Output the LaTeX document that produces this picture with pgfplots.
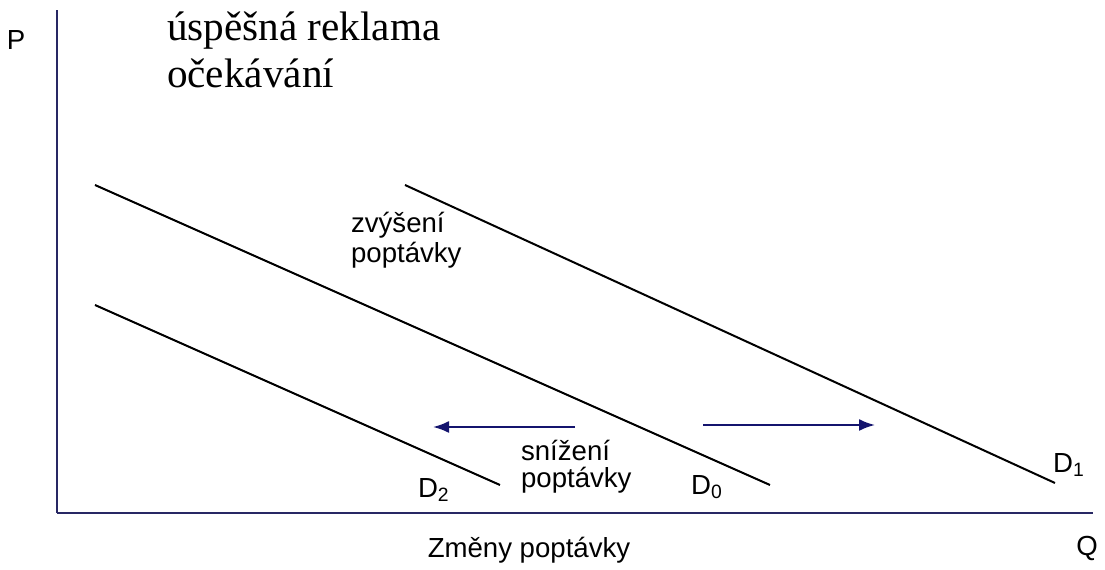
\documentclass[border=0pt]{standalone}
\usepackage{pgfplots}
\pgfplotsset{compat=1.18}
\usepackage{fontspec}
\setmainfont{Liberation Sans}
\newfontfamily\serif{Liberation Serif}
\usetikzlibrary{arrows.meta}
\definecolor{navy}{RGB}{20,20,110}
\definecolor{axnavy}{RGB}{40,40,100}
\begin{document}
\begin{tikzpicture}
\begin{axis}[
  x=0.5pt, y=0.5pt,
  xmin=57, xmax=1093, ymin=56, ymax=559,
  axis lines=left,
  axis line style={-, axnavy, line width=1.2pt},
  xtick=\empty, ytick=\empty,
  clip=false,
]
\path (axis cs:0,0) rectangle (axis cs:1105,569);
\addplot[black, line width=1pt] coordinates {(95,384) (770,84)};
\addplot[black, line width=1pt] coordinates {(405,384) (1055,86)};
\addplot[black, line width=1pt] coordinates {(95,264) (500,84)};
\addplot[navy, line width=1pt, -{Latex[length=8pt,width=6pt]}] coordinates {(575,142) (433,142)};
\addplot[navy, line width=1pt, -{Latex[length=8pt,width=6pt]}] coordinates {(703,144) (875,144)};
\node[font=\fontsize{13.8}{16}\selectfont] at (axis cs:16,529) {P};
\node[font=\fontsize{13.8}{16}\selectfont] at (axis cs:1087,21) {Q};
\node[font=\fontsize{13.8}{16}\selectfont] at (axis cs:529,19) {Změny poptávky};
\node[font=\fontsize{13.8}{16}\selectfont, anchor=west] at (axis cs:344,344) {zvýšení};
\node[font=\fontsize{13.8}{16}\selectfont, anchor=west] at (axis cs:344,314) {poptávky};
\node[font=\fontsize{13.8}{16}\selectfont, anchor=west] at (axis cs:514,119) {snížení};
\node[font=\fontsize{13.8}{16}\selectfont, anchor=west] at (axis cs:514,89) {poptávky};
\node[font=\fontsize{13.8}{16}\selectfont, anchor=west] at (axis cs:411,79) {D\textsubscript{2}};
\node[font=\fontsize{13.8}{16}\selectfont, anchor=west] at (axis cs:684,82) {D\textsubscript{0}};
\node[font=\fontsize{13.8}{16}\selectfont, anchor=west] at (axis cs:1046,104) {D\textsubscript{1}};
\node[font=\serif\fontsize{20.6}{23}\selectfont, anchor=west] at (axis cs:160,538) {úspěšná reklama};
\node[font=\serif\fontsize{20.6}{23}\selectfont, anchor=west] at (axis cs:160,496) {očekávání};
\end{axis}
\end{tikzpicture}
\end{document}
